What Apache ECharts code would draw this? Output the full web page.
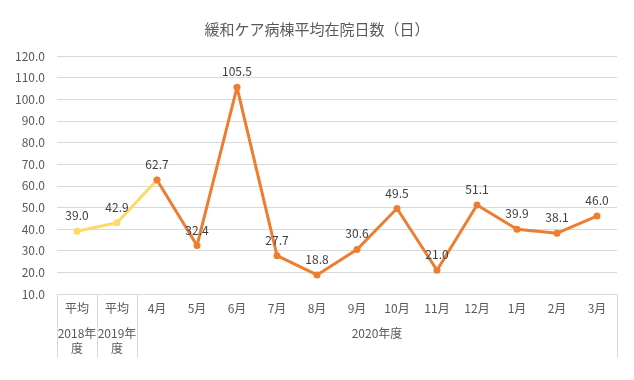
<!DOCTYPE html>
<html><head><meta charset="utf-8">
<script src="https://cdn.jsdelivr.net/npm/echarts@6/dist/echarts.min.js"></script>
<style>html,body{margin:0;padding:0;background:#fff}#c{width:634px;height:380px}</style>
</head><body><div id="c"></div>
<script>
const titleText = '緩和ケア病棟平均在院日数（日）';
const categories = ['平均','平均','4月','5月','6月','7月','8月','9月','10月','11月','12月','1月','2月','3月'];
const groupLabels = [
  {at: 0.5, text: '2018年\n度'},
  {at: 1.5, text: '2019年\n度'},
  {at: 8, text: '2020年度'}
];
const groupBoundaries = [0, 1, 2];
const averageValues = [39.0, 42.9, 62.7];
const monthlyValues = [null, null, 62.7, 32.4, 105.5, 27.7, 18.8, 30.6, 49.5, 21.0, 51.1, 39.9, 38.1, 46.0];
const yTicks = {min: 10, max: 120, interval: 10};

const font = '"Noto Sans CJK JP", "Noto Sans", sans-serif';
const chart = echarts.init(document.getElementById('c'), null, {renderer: 'canvas'});
chart.setOption({
  animation: false,
  textStyle: {fontFamily: font},
  title: {
    text: titleText, left: 'center', top: 17,
    textStyle: {fontFamily: font, fontSize: 15, fontWeight: 'normal', color: '#595959'}
  },
  grid: {left: 57, right: 17, top: 56, bottom: 86},
  xAxis: [{
    type: 'category', data: categories, boundaryGap: true,
    axisLine: {show: true, lineStyle: {color: '#d9d9d9'}},
    axisTick: {show: true, length: 64, interval: (i) => groupBoundaries.includes(i), lineStyle: {color: '#d9d9d9'}},
    axisLabel: {interval: 0, color: '#595959', fontSize: 12, margin: 8, fontFamily: font},
    splitLine: {show: false}
  }, {
    type: 'value', position: 'bottom', offset: 24, min: 0, max: categories.length, interval: 0.5,
    axisLine: {show: false}, axisTick: {show: false}, splitLine: {show: false},
    axisLabel: {
      margin: 8, color: '#595959', fontSize: 12, lineHeight: 15, fontFamily: font,
      showMinLabel: true, showMaxLabel: true,
      formatter: (v) => { const g = groupLabels.find(g => Math.abs(g.at - v) < 1e-6); return g ? g.text : ''; }
    }
  }],
  yAxis: {
    type: 'value', min: yTicks.min, max: yTicks.max, interval: yTicks.interval,
    axisLine: {show: false}, axisTick: {show: false},
    axisLabel: {color: '#595959', fontSize: 12, margin: 12, formatter: (v) => v.toFixed(1), fontFamily: font},
    splitLine: {lineStyle: {color: '#d9d9d9', width: 1}}
  },
  series: [{
    type: 'line', data: averageValues, xAxisIndex: 0,
    symbol: 'circle', symbolSize: 7,
    lineStyle: {color: '#FFD966', width: 3}, itemStyle: {color: '#FFD966'},
    label: {show: true, position: 'top', distance: 6, color: '#404040', fontSize: 12,
      formatter: (p) => p.dataIndex < 2 ? p.value.toFixed(1) : ''}
  }, {
    type: 'line', data: monthlyValues, xAxisIndex: 0,
    symbol: 'circle', symbolSize: 7,
    lineStyle: {color: '#ED7D31', width: 3}, itemStyle: {color: '#ED7D31'},
    label: {show: true, position: 'top', distance: 6, color: '#404040', fontSize: 12,
      formatter: (p) => p.value == null ? '' : Number(p.value).toFixed(1)}
  }]
});
</script></body></html>
